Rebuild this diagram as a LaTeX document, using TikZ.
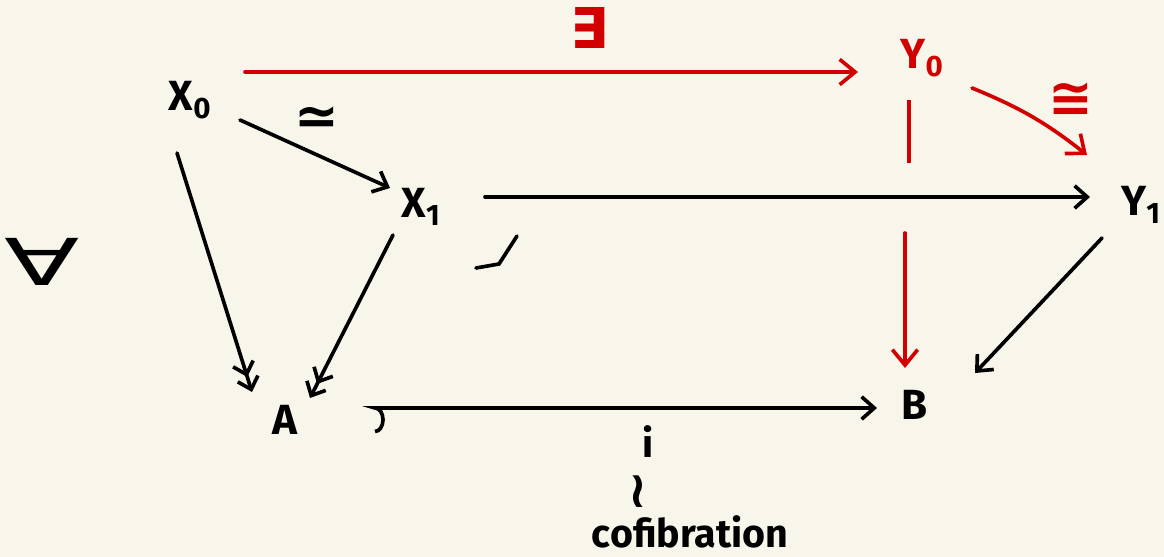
\documentclass[tikz,border=0pt]{standalone}
\usepackage{fontspec}
\setmainfont{Fira Sans}
\newfontfamily\symfont{DejaVu Sans}
\usetikzlibrary{arrows.meta}
\definecolor{paper}{RGB}{248,246,235}
\definecolor{inkred}{RGB}{210,0,0}
\tikzset{
  obj/.style={font=\fontsize{30}{36}\selectfont\bfseries, inner sep=0pt},
  sym/.style={font=\fontsize{38}{40}\selectfont\symfont, inner sep=0pt},
  arr/.style={line width=2.6pt, line cap=round, -{Straight Barb[length=9pt,width=16pt]}},
  fib/.style={line width=2.6pt, line cap=round, -{Straight Barb[length=8pt,width=15pt] Straight Barb[length=8pt,width=15pt]}},
  cof/.style={line width=2.6pt, line cap=round, {Hooks[left,reversed,length=7pt,width=36pt]}-{Straight Barb[length=9pt,width=16pt]}},
  redarr/.style={line width=2.6pt, line cap=round, inkred, -{Straight Barb[length=11pt,width=18pt]}},
}
\begin{document}
\begin{tikzpicture}[x=0.025cm, y=-0.025cm]
  \useasboundingbox[fill=paper] (0,0) rectangle (1164,557);

  \node[obj] (x0) at (190,100) {X\textsubscript{0}};
  \node[obj] (x1) at (421,207) {X\textsubscript{1}};
  \node[obj, inkred] (y0) at (922,58) {Y\textsubscript{0}};
  \node[obj] (y1) at (1141,205) {Y\textsubscript{1}};
  \node[obj] (a) at (285,420) {A};
  \node[obj] (b) at (915,405) {B};

  \node[sym, font=\fontsize{46}{48}\selectfont\symfont, xscale=1.7] (all) at (42,262) {∀};
  \node[sym, inkred, font=\fontsize{40}{42}\selectfont\symfont\bfseries] (ex) at (590,28) {∃};
  \node[sym, font=\fontsize{38}{40}\selectfont\symfont\bfseries] (we) at (317,121) {≃};
  \node[sym, inkred, font=\fontsize{38}{40}\selectfont\symfont\bfseries] (iso) at (1071,100) {≅};
  \node[obj, font=\fontsize{28}{30}\selectfont\bfseries] (i) at (648,442) {i};
  \node[sym, font=\fontsize{36}{38}\selectfont\symfont\bfseries] (wr) at (638,492) {≀};
  \node[obj, font=\fontsize{28}{32}\selectfont\bfseries] (cof) at (690,532) {cofibration};

  \draw[redarr] ([shift={(55,-28)}]x0.center) -- ([shift={(-64,14)}]y0.center);
  \draw[redarr] ([shift={(50,30)}]y0.center) to[bend left=8] ([shift={(-54,-50)}]y1.center);
  \draw[line width=2.6pt, inkred] ([shift={(-13,42)}]y0.center) -- ([shift={(-13,105)}]y0.center);
  \draw[redarr] ([shift={(-10,-172)}]b.center) -- ([shift={(-10,-37)}]b.center);

  \draw[arr] ([shift={(50,20)}]x0.center) -- ([shift={(-31,-19)}]x1.center);
  \draw[fib] ([shift={(-13,53)}]x0.center) -- ([shift={(-33,-28)}]a.center);
  \draw[fib] ([shift={(-28,28)}]x1.center) -- ([shift={(25,-22)}]a.center);
  \draw[arr] ([shift={(64,-10)}]x1.center) -- ([shift={(-51,-8)}]y1.center);
  \draw[arr] ([shift={(-39,33)}]y1.center) -- ([shift={(60,-32)}]b.center);
  \draw[cof] ([shift={(90,-12)}]a.center) -- ([shift={(-38,3)}]b.center);

  \draw[line width=2.6pt, line cap=round] (476,268) -- (499,264) -- (517,236);
\end{tikzpicture}
\end{document}
